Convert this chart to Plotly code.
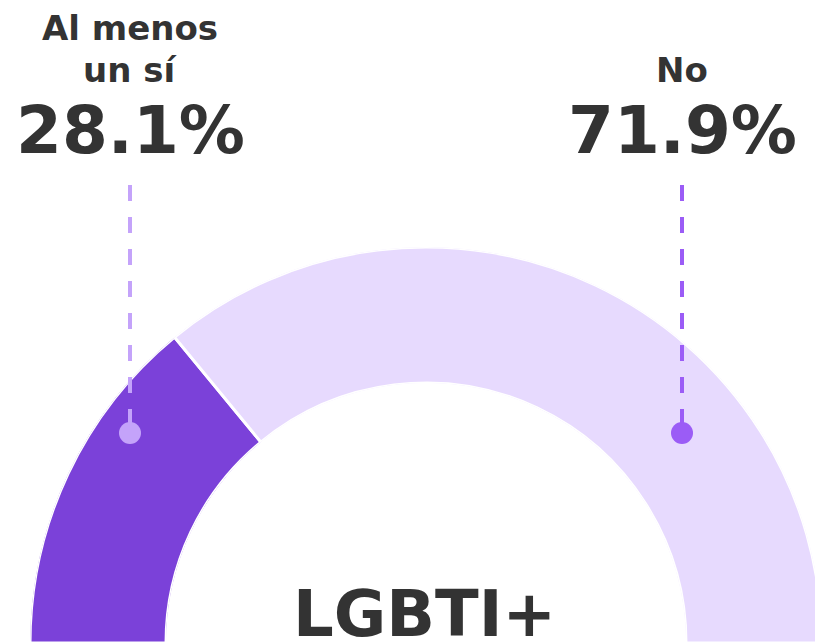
import plotly.graph_objects as go

W, H = 823, 643
OFF = 8  # page body margin offset

# Data
categories = ["Al menos<br>un sí", "No"]
values = [28.1, 71.9]
value_labels = ["28.1%", "71.9%"]
group_label = "LGBTI+"

seg_colors = ["#7B41D9", "#E7DAFE"]
marker_colors = ["#C4A3FA", "#9B5CF6"]
text_color = "#333333"
FONT = "DejaVu Sans"

# angular positions derived from values (semicircle = 180 deg)
total = sum(values)
widths = [v / total * 180 for v in values]
centers = []
acc = 0
for w in widths:
    centers.append(acc + w / 2)
    acc += w

fig = go.Figure()
fig.add_trace(go.Barpolar(
    r=[1, 1],
    theta=centers,
    width=widths,
    marker=dict(color=seg_colors, line=dict(color="white", width=3)),
    hoverinfo="skip",
    showlegend=False,
))

def px(xp):
    return (xp - OFF) / W

def py(yp):
    return 1 - (yp - OFF) / H

fig.update_layout(
    width=W, height=H,
    margin=dict(l=0, r=0, t=0, b=0),
    paper_bgcolor="white",
    plot_bgcolor="white",
    polar=dict(
        domain=dict(x=[px(30), px(822)], y=[py(643), py(247)]),
        sector=[0, 180],
        hole=260 / 396,
        bgcolor="white",
        radialaxis=dict(visible=False, range=[0, 1]),
        angularaxis=dict(visible=False, direction="clockwise", rotation=180),
    ),
)

# Leader lines and dots
leaders = [(130, marker_colors[0]), (682, marker_colors[1])]
for x, c in leaders:
    fig.add_shape(type="line", xref="paper", yref="paper",
                  x0=px(x), x1=px(x), y0=py(185), y1=py(430),
                  line=dict(color=c, width=4, dash="16px,16px"))
    fig.add_shape(type="circle", xref="paper", yref="paper",
                  x0=px(x - 11), x1=px(x + 11), y0=py(444), y1=py(422),
                  fillcolor=c, line=dict(width=0))

def label(x, y, text, size):
    fig.add_annotation(x=px(x), y=py(y), xref="paper", yref="paper",
                       text="<b>" + text + "</b>", showarrow=False,
                       xanchor="center", yanchor="middle",
                       font=dict(family=FONT, size=size, color=text_color))

label(130, 28, "Al menos", 34)
label(130, 70, "un sí", 34)
label(130, 130, value_labels[0], 66)
label(682, 70, categories[1], 34)
label(682, 130, value_labels[1], 66)
label(425, 614, group_label, 64)

fig.write_html("out.html")
